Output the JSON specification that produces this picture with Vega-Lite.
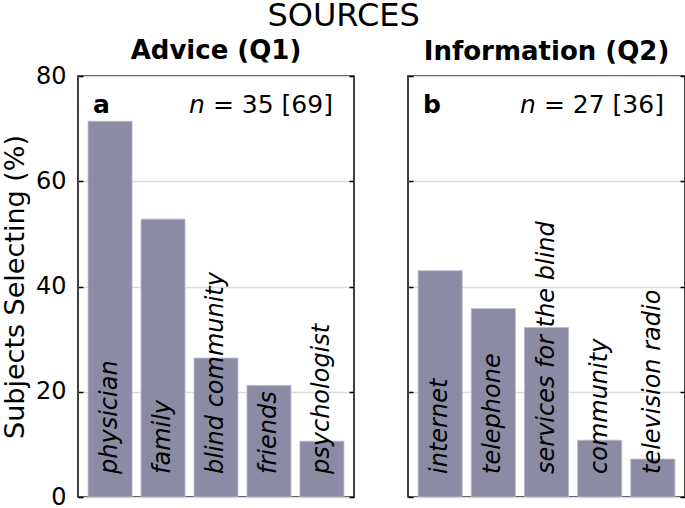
{
  "$schema": "https://vega.github.io/schema/vega-lite/v6.json",
  "background": "white",
  "padding": {"left": 0, "top": 0, "right": 0, "bottom": 0},
  "title": {
    "text": "SOURCES",
    "anchor": "middle",
    "font": "DejaVu Sans",
    "fontSize": 32,
    "fontWeight": "normal",
    "color": "black",
    "offset": 4
  },
  "config": {
    "font": "DejaVu Sans",
    "view": {"stroke": "black", "strokeWidth": 1.5},
    "title": {"font": "DejaVu Sans", "fontSize": 26, "fontWeight": "bold", "color": "black"},
    "axis": {
      "labelFont": "DejaVu Sans",
      "titleFont": "DejaVu Sans",
      "labelFontSize": 24,
      "titleFontSize": 27,
      "titleFontWeight": "normal",
      "labelColor": "black",
      "titleColor": "black",
      "tickColor": "black",
      "tickWidth": 1.5,
      "tickSize": 5,
      "gridColor": "#dcdcdc",
      "gridWidth": 1.5
    }
  },
  "datasets": {
    "advice": [
      {"source": "physician", "pct": 71.4},
      {"source": "family", "pct": 52.8},
      {"source": "blind community", "pct": 26.4},
      {"source": "friends", "pct": 21.2},
      {"source": "psychologist", "pct": 10.6}
    ],
    "info": [
      {"source": "internet", "pct": 43.0},
      {"source": "telephone", "pct": 35.8},
      {"source": "services for the blind", "pct": 32.2},
      {"source": "community", "pct": 10.8},
      {"source": "television radio", "pct": 7.2}
    ],
    "advice_note": [
      {"letter": "a", "first": "physician", "last": "psychologist", "count": "= 35 [69]", "pos": 73}
    ],
    "info_note": [
      {"letter": "b", "first": "internet", "last": "television radio", "count": "= 27 [36]", "pos": 73}
    ]
  },
  "hconcat": [
    {
      "title": {"text": "Advice (Q1)", "offset": 0},
      "width": 276,
      "height": 421,
      "layer": [
        {
          "data": {"name": "advice"},
          "mark": {"type": "bar", "color": "#8b8ba6", "stroke": "#b9b9cc", "strokeWidth": 0.8},
          "encoding": {
            "x": {"field": "source", "type": "nominal", "sort": null, "axis": null,
                  "scale": {"domain": ["physician", "family", "blind community", "friends", "psychologist"],
                            "paddingInner": 0.17, "paddingOuter": 0.19}},
            "y": {"field": "pct", "type": "quantitative",
                  "scale": {"domain": [0, 80]},
                  "axis": {"orient": "left", "values": [0, 20, 40, 60, 80], "title": "Subjects Selecting (%)",
                           "grid": true, "domain": false, "ticks": false, "labelPadding": 12, "titlePadding": 6}}
          }
        },
        {
          "data": {"name": "advice"},
          "mark": {"type": "point", "opacity": 0},
          "encoding": {
            "x": {"field": "source", "type": "nominal", "sort": null, "axis": null},
            "y": {"field": "pct", "type": "quantitative",
                  "axis": {"orient": "right", "offset": -276, "values": [0, 20, 40, 60, 80], "title": null,
                           "labels": false, "grid": false, "domain": false}}
          }
        },
        {
          "data": {"name": "advice"},
          "mark": {"type": "point", "opacity": 0},
          "encoding": {
            "x": {"field": "source", "type": "nominal", "sort": null, "axis": null},
            "y": {"field": "pct", "type": "quantitative",
                  "axis": {"orient": "left", "offset": -276, "values": [0, 20, 40, 60, 80], "title": null,
                           "labels": false, "grid": false, "domain": false}}
          }
        },
        {
          "data": {"name": "advice"},
          "mark": {"type": "text", "angle": 270, "align": "left", "baseline": "middle", "dx": 23,
                   "font": "DejaVu Sans", "fontSize": 24, "fontStyle": "italic", "color": "black"},
          "encoding": {
            "x": {"field": "source", "type": "nominal", "sort": null, "axis": null},
            "y": {"datum": 0, "axis": null},
            "text": {"field": "source"}
          }
        },
        {
          "data": {"name": "advice_note"},
          "mark": {"type": "text", "align": "left", "baseline": "alphabetic", "dx": 5,
                   "fontSize": 25, "fontWeight": "bold", "color": "black"},
          "encoding": {
            "x": {"field": "first", "type": "nominal", "sort": null, "bandPosition": 0, "axis": null},
            "y": {"field": "pos", "type": "quantitative", "axis": null},
            "text": {"field": "letter"}
          }
        },
        {
          "data": {"name": "advice_note"},
          "mark": {"type": "text", "align": "right", "baseline": "alphabetic", "dx": -11,
                   "fontSize": 25, "color": "black"},
          "encoding": {
            "x": {"field": "last", "type": "nominal", "sort": null, "bandPosition": 1, "axis": null},
            "y": {"field": "pos", "type": "quantitative", "axis": null},
            "text": {"field": "count"}
          }
        },
        {
          "data": {"name": "advice_note"},
          "mark": {"type": "text", "align": "right", "baseline": "alphabetic", "dx": -139,
                   "fontSize": 25, "fontStyle": "italic", "color": "black"},
          "encoding": {
            "x": {"field": "last", "type": "nominal", "sort": null, "bandPosition": 1, "axis": null},
            "y": {"field": "pos", "type": "quantitative", "axis": null},
            "text": {"value": "n"}
          }
        }
      ],
      "resolve": {"axis": {"y": "independent"}}
    },
    {
      "title": {"text": "Information (Q2)", "offset": 10},
      "width": 277,
      "height": 421,
      "layer": [
        {
          "data": {"name": "info"},
          "mark": {"type": "bar", "color": "#8b8ba6", "stroke": "#b9b9cc", "strokeWidth": 0.8},
          "encoding": {
            "x": {"field": "source", "type": "nominal", "sort": null, "axis": null,
                  "scale": {"domain": ["internet", "telephone", "services for the blind", "community", "television radio"],
                            "paddingInner": 0.17, "paddingOuter": 0.19}},
            "y": {"field": "pct", "type": "quantitative",
                  "scale": {"domain": [0, 80]},
                  "axis": {"orient": "left", "values": [0, 20, 40, 60, 80], "title": null, "labels": false,
                           "grid": true, "domain": false, "ticks": false}}
          }
        },
        {
          "data": {"name": "info"},
          "mark": {"type": "point", "opacity": 0},
          "encoding": {
            "x": {"field": "source", "type": "nominal", "sort": null, "axis": null},
            "y": {"field": "pct", "type": "quantitative",
                  "axis": {"orient": "right", "offset": -277, "values": [0, 20, 40, 60, 80], "title": null,
                           "labels": false, "grid": false, "domain": false}}
          }
        },
        {
          "data": {"name": "info"},
          "mark": {"type": "point", "opacity": 0},
          "encoding": {
            "x": {"field": "source", "type": "nominal", "sort": null, "axis": null},
            "y": {"field": "pct", "type": "quantitative",
                  "axis": {"orient": "left", "offset": -277, "values": [0, 20, 40, 60, 80], "title": null,
                           "labels": false, "grid": false, "domain": false}}
          }
        },
        {
          "data": {"name": "info"},
          "mark": {"type": "text", "angle": 270, "align": "left", "baseline": "middle", "dx": 23,
                   "font": "DejaVu Sans", "fontSize": 24, "fontStyle": "italic", "color": "black"},
          "encoding": {
            "x": {"field": "source", "type": "nominal", "sort": null, "axis": null},
            "y": {"datum": 0, "axis": null},
            "text": {"field": "source"}
          }
        },
        {
          "data": {"name": "info_note"},
          "mark": {"type": "text", "align": "left", "baseline": "alphabetic", "dx": 5,
                   "fontSize": 25, "fontWeight": "bold", "color": "black"},
          "encoding": {
            "x": {"field": "first", "type": "nominal", "sort": null, "bandPosition": 0, "axis": null},
            "y": {"field": "pos", "type": "quantitative", "axis": null},
            "text": {"field": "letter"}
          }
        },
        {
          "data": {"name": "info_note"},
          "mark": {"type": "text", "align": "right", "baseline": "alphabetic", "dx": -11,
                   "fontSize": 25, "color": "black"},
          "encoding": {
            "x": {"field": "last", "type": "nominal", "sort": null, "bandPosition": 1, "axis": null},
            "y": {"field": "pos", "type": "quantitative", "axis": null},
            "text": {"field": "count"}
          }
        },
        {
          "data": {"name": "info_note"},
          "mark": {"type": "text", "align": "right", "baseline": "alphabetic", "dx": -139,
                   "fontSize": 25, "fontStyle": "italic", "color": "black"},
          "encoding": {
            "x": {"field": "last", "type": "nominal", "sort": null, "bandPosition": 1, "axis": null},
            "y": {"field": "pos", "type": "quantitative", "axis": null},
            "text": {"value": "n"}
          }
        }
      ],
      "resolve": {"axis": {"y": "independent"}}
    }
  ],
  "spacing": 50
}
